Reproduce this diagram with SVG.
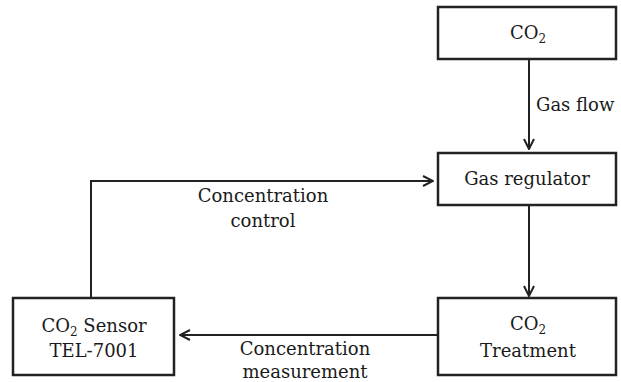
<svg xmlns="http://www.w3.org/2000/svg" width="621" height="382" viewBox="0 0 621 382">
<style>
.box{fill:#fff;stroke:#222;stroke-width:2.5}
.t{font-family:"DejaVu Serif","Liberation Serif",serif;font-size:18px;fill:#1a1a1a;text-anchor:middle}
.l{font-family:"DejaVu Serif","Liberation Serif",serif;font-size:18px;fill:#1a1a1a}
.sub{font-size:12px}
.c{fill:none;stroke:#222;stroke-width:2}
</style>
<defs>
<marker id="ah" viewBox="0 0 12 12" refX="11" refY="6" markerWidth="12" markerHeight="12" markerUnits="userSpaceOnUse" orient="auto">
<path d="M1,1 L11,6 L1,11" fill="none" stroke="#222" stroke-width="2"/>
</marker>
</defs>
<g id="connectors">
<line class="c" x1="529" y1="60" x2="529" y2="149" marker-end="url(#ah)"/>
<line class="c" x1="529" y1="206" x2="529" y2="296" marker-end="url(#ah)"/>
<line class="c" x1="437" y1="335" x2="180" y2="335" marker-end="url(#ah)"/>
<polyline class="c" points="91,298 91,181 433,181" marker-end="url(#ah)"/>
<text class="l" x="536" y="111">Gas flow</text>
<text class="t" x="263" y="202">Concentration</text>
<text class="t" x="263" y="227">control</text>
<text class="t" x="305" y="355">Concentration</text>
<text class="t" x="305" y="378">measurement</text>
</g>
<g id="co2">
<rect class="box" x="438" y="7" width="178" height="52"/>
<text class="t" x="528" y="39">CO<tspan class="sub" dy="4">2</tspan></text>
</g>
<g id="regulator">
<rect class="box" x="438" y="153" width="178" height="52"/>
<text class="t" x="527" y="185">Gas regulator</text>
</g>
<g id="treatment">
<rect class="box" x="438" y="298" width="178" height="77"/>
<text class="t" x="528" y="330">CO<tspan class="sub" dy="4">2</tspan></text>
<text class="t" x="528" y="357">Treatment</text>
</g>
<g id="sensor">
<rect class="box" x="13" y="298" width="161" height="77"/>
<text class="t" x="94" y="332">CO<tspan class="sub" dy="4">2</tspan><tspan dy="-4"> Sensor</tspan></text>
<text class="t" x="94" y="357">TEL-7001</text>
</g>
</svg>
